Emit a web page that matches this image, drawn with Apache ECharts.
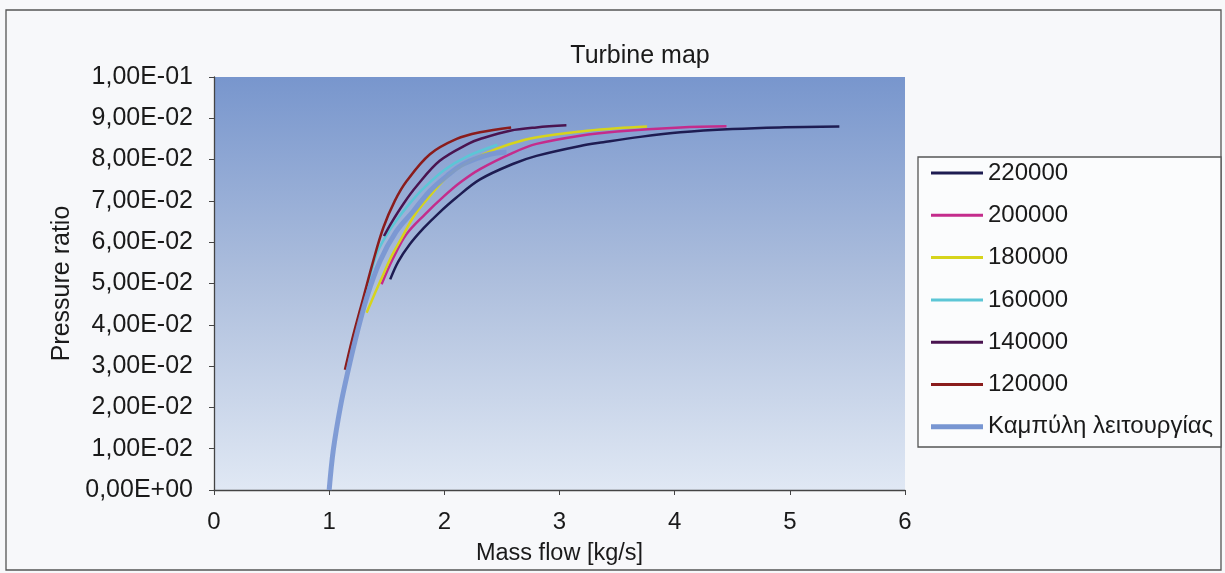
<!DOCTYPE html>
<html>
<head>
<meta charset="utf-8">
<script src="https://cdn.jsdelivr.net/npm/echarts@6/dist/echarts.min.js"></script>
<style>
  html, body { margin: 0; padding: 0; background: #f7f8fa; }
  #chart { width: 1225px; height: 573px; }
</style>
</head>
<body>
<div id="chart"></div>
<script>
// Speed lines of the turbine map: [mass flow kg/s, pressure ratio]
const speedNames = ['220000', '200000', '180000', '160000', '140000', '120000'];
const operatingName = 'Καμπύλη λειτουργίας';

const speed220000 = [[1.53,0.0510],[1.60,0.0553],[1.70,0.0595],[1.82,0.0634],[1.95,0.0670],[2.10,0.0707],[2.31,0.0752],[2.60,0.0790],[2.80,0.0809],[3.18,0.0833],[3.38,0.0842],[3.70,0.0855],[4.05,0.0866],[4.50,0.0874],[4.91,0.0878],[5.43,0.0880]];
const speed200000 = [[1.455,0.0498],[1.55,0.0558],[1.67,0.0619],[1.83,0.0667],[2.00,0.0712],[2.14,0.0745],[2.31,0.0777],[2.60,0.0817],[2.80,0.0838],[3.18,0.0858],[3.50,0.0868],[4.05,0.0878],[4.45,0.0881]];
const speed180000 = [[1.325,0.0429],[1.40,0.0478],[1.47,0.0522],[1.54,0.0565],[1.615,0.0603],[1.745,0.0667],[1.875,0.0712],[2.05,0.0765],[2.25,0.0800],[2.45,0.0826],[2.70,0.0848],[2.89,0.0858],[3.24,0.0870],[3.50,0.0876],[3.76,0.0880]];
const speed160000 = [[1.29,0.0450],[1.325,0.0485],[1.41,0.0570],[1.50,0.0618],[1.59,0.0655],[1.70,0.0694],[1.81,0.0728],[2.00,0.0775],[2.20,0.0808],[2.46,0.0836]];
const speed140000 = [[1.476,0.0615],[1.54,0.0647],[1.65,0.0695],[1.76,0.0736],[1.96,0.0797],[2.22,0.0840],[2.31,0.0850],[2.57,0.0870],[2.80,0.0878],[3.06,0.0883]];
const speed120000 = [[1.137,0.0291],[1.20,0.0365],[1.296,0.0465],[1.383,0.0555],[1.47,0.0635],[1.57,0.0700],[1.673,0.0748],[1.875,0.0813],[2.107,0.0850],[2.31,0.0866],[2.58,0.0878]];
const operatingCurve = [[1.0,0.0],[1.036,0.0097],[1.10,0.0205],[1.166,0.0291],[1.224,0.0360],[1.325,0.0465],[1.441,0.0554],[1.58,0.0625],[1.73,0.0675],[1.875,0.0724],[2.02,0.0760],[2.164,0.0789],[2.396,0.0813],[2.54,0.0818]];

const yTickLabels = ['0,00E+00','1,00E-02','2,00E-02','3,00E-02','4,00E-02','5,00E-02','6,00E-02','7,00E-02','8,00E-02','9,00E-02','1,00E-01'];
const xTickLabels = ['0','1','2','3','4','5','6'];

const speedData = [speed220000, speed200000, speed180000, speed160000, speed140000, speed120000];
const speedColors = ['#1e1c52', '#c42c8c', '#d6d41c', '#5cc6d6', '#4a1450', '#8a1c1c'];
const operatingColor = '#7896d2';

const font = '"Liberation Sans", Arial, sans-serif';

// legend keys: a horizontal band inside a 52x14 box (tiny corner squares keep the box size)
const bandIcon = (top, bottom) =>
  'path://M0,0h0.05v0.05h-0.05z M0,' + top + 'h52v' + (bottom - top) + 'h-52z M51.95,13.95h0.05v0.05h-0.05z';

const chart = echarts.init(document.getElementById('chart'), null, { renderer: 'canvas' });

const series = speedData.map((d, i) => ({
  name: speedNames[i],
  type: 'line',
  data: d,
  smooth: 0.35,
  symbol: 'none',
  lineStyle: { color: speedColors[i], width: 2.5 },
  itemStyle: { color: speedColors[i] },
  z: 3
}));
series.push({
  name: operatingName,
  type: 'line',
  data: operatingCurve,
  smooth: 0.35,
  symbol: 'none',
  lineStyle: { color: operatingColor, width: 5, opacity: 0.92 },
  itemStyle: { color: operatingColor },
  z: 4
});

const legendData = speedNames.map(n => ({ name: n, icon: bandIcon(5.5, 8.5) }));
legendData.push({ name: operatingName, icon: bandIcon(4.5, 9.5) });

chart.setOption({
  animation: false,
  backgroundColor: '#f7f8fa',
  title: {
    text: 'Turbine map',
    left: 635, top: 39, textAlign: 'center',
    textStyle: { fontFamily: font, fontSize: 25, fontWeight: 'normal', color: '#1a1a1a' }
  },
  graphic: [
    { type: 'rect', shape: { x: 6, y: 10, width: 1215, height: 560 },
      style: { fill: 'none', stroke: '#555', lineWidth: 1.3 }, z: 0 },
    { type: 'rect', shape: { x: 918, y: 157, width: 303, height: 290 },
      style: { fill: '#fbfcfd', stroke: '#555', lineWidth: 1.3 }, z: 0 }
  ],
  grid: {
    left: 214, right: 320, top: 77, bottom: 83,
    show: true, borderWidth: 0,
    backgroundColor: {
      type: 'linear', x: 0, y: 0, x2: 0, y2: 1,
      colorStops: [
        { offset: 0, color: '#7896cd' },
        { offset: 0.5, color: '#aebfdd' },
        { offset: 1, color: '#e0e8f4' }
      ]
    }
  },
  legend: {
    orient: 'vertical',
    left: 931, top: 160,
    padding: 0,
    itemWidth: 52, itemHeight: 14, itemGap: 16.3,
    selectedMode: false,
    data: legendData,
    textStyle: { fontFamily: font, fontSize: 24, color: '#1a1a1a', lineHeight: 26 }
  },
  xAxis: {
    type: 'value', min: 0, max: 6, interval: 1,
    name: 'Mass flow [kg/s]', nameLocation: 'middle', nameGap: 52,
    nameTextStyle: { fontFamily: font, fontSize: 23.5, color: '#1a1a1a' },
    axisLine: { onZero: false, lineStyle: { color: '#444', width: 1.3 } },
    axisTick: { show: true, length: 5, lineStyle: { color: '#444' } },
    splitLine: { show: false },
    axisLabel: { margin: 20, fontFamily: font, fontSize: 24, color: '#1a1a1a',
      formatter: (v, i) => xTickLabels[i] }
  },
  yAxis: {
    type: 'value', min: 0, max: 0.1, interval: 0.01,
    name: 'Pressure ratio', nameLocation: 'middle', nameGap: 134, nameRotate: 90,
    nameTextStyle: { fontFamily: font, fontSize: 25, color: '#1a1a1a' },
    axisLine: { show: true, onZero: false, lineStyle: { color: '#444', width: 1.3 } },
    axisTick: { show: true, length: 5, lineStyle: { color: '#444' } },
    splitLine: { show: false },
    axisLabel: { margin: 21, fontFamily: font, fontSize: 25, color: '#1a1a1a',
      formatter: (v, i) => yTickLabels[i] }
  },
  series: series
});
</script>
</body>
</html>
